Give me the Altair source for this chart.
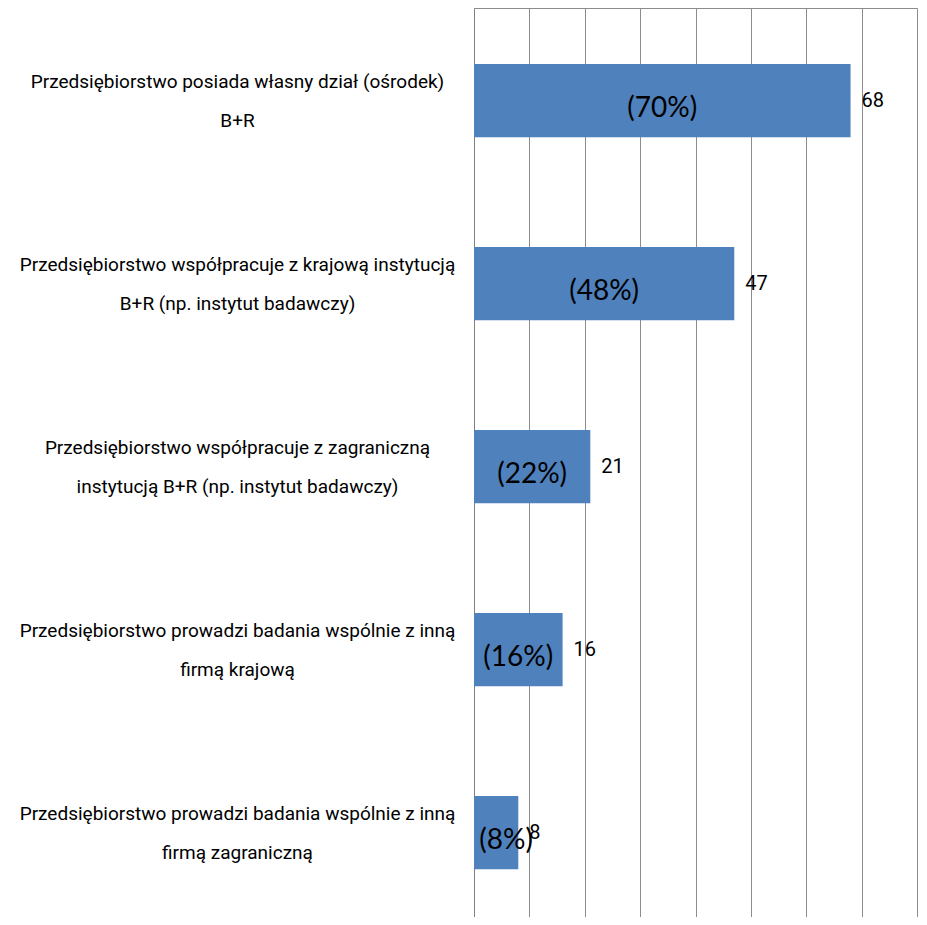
import altair as alt
import pandas as pd

categories = [
    "Przedsiębiorstwo posiada własny dział (ośrodek)\nB+R",
    "Przedsiębiorstwo współpracuje z krajową instytucją\nB+R (np. instytut badawczy)",
    "Przedsiębiorstwo współpracuje z zagraniczną\ninstytucją B+R (np. instytut badawczy)",
    "Przedsiębiorstwo prowadzi badania wspólnie z inną\nfirmą krajową",
    "Przedsiębiorstwo prowadzi badania wspólnie z inną\nfirmą zagraniczną",
]
values = [68, 47, 21, 16, 8]
percents = [70, 48, 22, 16, 8]
grid_values = [0, 10, 20, 30, 40, 50, 60, 70, 80]

df = pd.DataFrame({"cat": categories, "value": values, "pct": percents})
df["pct_label"] = df["pct"].map(lambda p: f"({p}%)")

NARROW = "Roboto"
GRID = "#8c8c8c"

x_scale = alt.Scale(domain=[0, 80], nice=False, zero=True)
y_scale = alt.Scale(paddingInner=0.6, paddingOuter=0.2836, align=0.54)

base = alt.Chart(df)

bars = base.mark_bar(color="#4F81BD").encode(
    x=alt.X(
        "value:Q",
        scale=x_scale,
        axis=alt.Axis(
            orient="top", title=None, labels=False, ticks=False,
            values=grid_values, grid=True, gridColor=GRID, gridOpacity=1,
            gridWidth=1, domain=True, domainColor=GRID, domainWidth=1,
        ),
    ),
    y=alt.Y(
        "cat:N",
        sort=None,
        scale=y_scale,
        axis=alt.Axis(
            title=None, ticks=False, domain=True, domainColor="#7f7f7f",
            domainWidth=1, labelAlign="center", labelBaseline="middle",
            labelPadding=237, labelOffset=-19, labelFont=NARROW, labelFontSize=19,
            labelColor="#000000", labelLineHeight=39, labelLimit=0,
            labelExpr="split(datum.label, '\\n')",
        ),
    ),
)

value_text = base.mark_text(
    align="left", baseline="middle", dx=11, font=NARROW, fontSize=20, color="#000000"
).encode(
    x=alt.X("value:Q", scale=x_scale),
    y=alt.Y("cat:N", sort=None, scale=y_scale),
    text="value:Q",
)

pct_text = base.transform_calculate(
    px="max(datum.value / 2, 5.8)"
).mark_text(
    align="center", baseline="middle", dy=8, font="Lato, Open Sans, sans-serif",
    fontSize=28, color="#000000"
).encode(
    x=alt.X("px:Q", scale=x_scale),
    y=alt.Y("cat:N", sort=None, scale=y_scale),
    text="pct_label:N",
)

chart = alt.layer(bars, value_text, pct_text).properties(
    width=443,
    height=909,
    autosize=alt.AutoSizeParams(type="none"),
    padding={"left": 466, "top": 0, "right": 2, "bottom": 0},
).configure_view(stroke=None).configure(background="white")

chart.save("out.html", embed_options={"renderer": "svg", "actions": False})
